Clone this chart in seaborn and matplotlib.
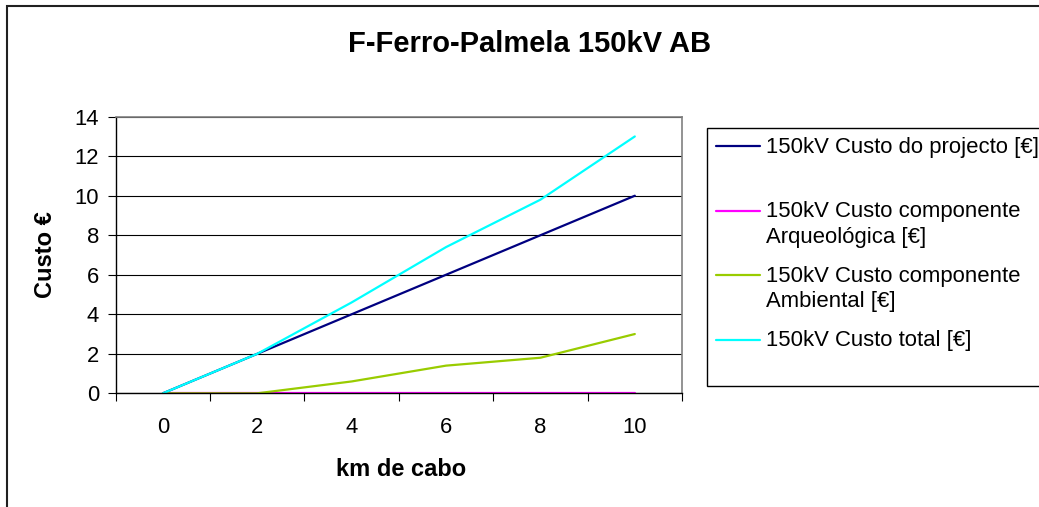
import numpy as np
import pandas as pd
import matplotlib
matplotlib.use("Agg")
import matplotlib.pyplot as plt
import seaborn as sns
from matplotlib.legend_handler import HandlerLine2D
from matplotlib.lines import Line2D
from matplotlib.patches import Rectangle

# ---- data ----
km = [0, 2, 4, 6, 8, 10]
custo_projecto = [0, 2, 4, 6, 8, 10]
custo_arqueologica = [0, 0, 0, 0, 0, 0]
custo_ambiental = [0, 0, 0.6, 1.4, 1.8, 3.0]
custo_total = [0, 2, 4.6, 7.4, 9.8, 13.0]
series_names = [
    "150kV Custo do projecto [€]",
    "150kV Custo componente Arqueológica [€]",
    "150kV Custo componente Ambiental [€]",
    "150kV Custo total [€]",
]
legend_labels = [
    "150kV Custo do projecto [€]\n ",
    "150kV Custo componente\nArqueológica [€]",
    "150kV Custo componente\nAmbiental [€]",
    "150kV Custo total [€]\n ",
]
y_ticks = [0, 2, 4, 6, 8, 10, 12, 14]
title = "F-Ferro-Palmela 150kV AB"
x_label = "km de cabo"
y_label = "Custo €"
colors = ["#000080", "#FF00FF", "#99CC00", "#00FFFF"]

sns.set_style("white")
plt.rcParams['font.family'] = ['Liberation Sans', 'DejaVu Sans']
plt.rcParams.update({"text.color": "black", "axes.labelcolor": "black",
                     "xtick.color": "black", "ytick.color": "black"})

W, H = 1039, 507
fig = plt.figure(figsize=(W / 100, H / 100), dpi=100)
L, R, T, B = 115.7, 682.0, 116.7, 393.3
ax = fig.add_axes([L / W, 1 - B / H, (R - L) / W, (B - T) / H])

df = pd.DataFrame({
    "km": km * 4,
    "custo": custo_projecto + custo_arqueologica + custo_ambiental + custo_total,
    "serie": sum([[n] * len(km) for n in series_names], []),
})
sns.lineplot(data=df, x="km", y="custo", hue="serie", hue_order=series_names,
             palette=colors, linewidth=1.6, ax=ax, legend=False,
             estimator=None, sort=False)

ax.set_xlim(-1, 11)
ax.set_ylim(0, 14)
ax.set_yticks(y_ticks)
ax.set_yticklabels([str(v) for v in y_ticks])
ax.set_xticks(km)
ax.set_xticklabels([str(v) for v in km])
ax.set_xticks(np.arange(-1, 12, 2), minor=True)
ax.tick_params(axis="x", which="major", length=0, pad=17, labelsize=15.8,
               colors="black")
ax.tick_params(axis="x", which="minor", length=5.5, width=0.8, direction="out",
               color="black", bottom=True)
ax.tick_params(axis="y", which="major", length=6, width=0.8, direction="out",
               left=True, pad=6, labelsize=15.8, colors="black")
ax.yaxis.grid(True, color="black", linewidth=0.8)
ax.xaxis.grid(False)
ax.set_axisbelow(True)
for s in ["left", "bottom"]:
    ax.spines[s].set_color("black")
    ax.spines[s].set_linewidth(1.0)
for s in ["top", "right"]:
    ax.spines[s].set_color("#808080")
    ax.spines[s].set_linewidth(1.2)

ax.set_xlabel(x_label, fontsize=17, fontweight="bold", color="black")
ax.set_ylabel(y_label, fontsize=17, fontweight="bold", color="black")
ax.xaxis.set_label_coords((401 - L) / (R - L), -(470 - B) / (B - T))
ax.xaxis.label.set_va("center")
ax.yaxis.set_label_coords(-(L - 45) / (R - L), 0.5)
ax.yaxis.label.set_va("center")

fig.text(530 / W, 1 - 44 / H, title, ha="center", va="center",
         fontsize=21, fontweight="bold", color="black")


class FirstLineHandler(HandlerLine2D):
    def __init__(self, yoff=0.0, **kw):
        super().__init__(**kw)
        self.yoff = yoff

    def create_artists(self, legend, orig_handle, xdescent, ydescent, width,
                       height, fontsize, trans):
        arts = super().create_artists(legend, orig_handle, xdescent, ydescent,
                                      width, height, fontsize, trans)
        for a in arts:
            if isinstance(a, Line2D):
                a.set_ydata(np.asarray(a.get_ydata(), dtype=float) + self.yoff)
        return arts


handles = ax.get_lines()[:4]
leg = ax.legend(handles, legend_labels, loc="upper left",
                bbox_to_anchor=(707 / W, 1 - 127.7 / H),
                bbox_transform=fig.transFigure, borderaxespad=0,
                frameon=True, fancybox=False, shadow=False, edgecolor="black",
                framealpha=1, fontsize=15.9, handlelength=2.0,
                handletextpad=0.28, borderpad=0.40, labelspacing=0.82,
                handler_map={Line2D: FirstLineHandler(10.0)})
leg.get_frame().set_linewidth(1.0)
for t in leg.get_texts():
    t.set_linespacing(1.28)
    t.set_color("black")

fig.patches.append(Rectangle((6.5 / W, -0.5), 2.0, 1.5 - 5.5 / H,
                             transform=fig.transFigure, fill=False,
                             edgecolor="#202020", linewidth=1.5))

fig.savefig("out.png", dpi=100)
